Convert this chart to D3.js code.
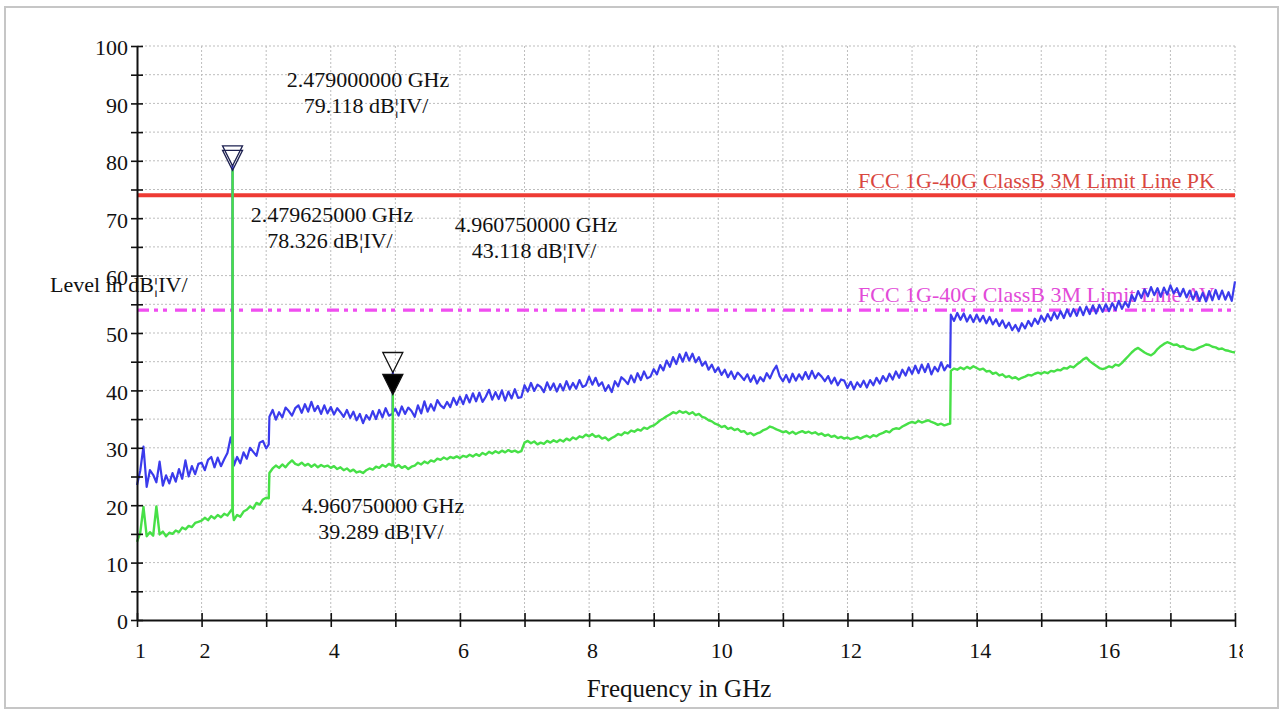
<!DOCTYPE html>
<html><head><meta charset="utf-8">
<script src="https://cdn.jsdelivr.net/npm/d3@7"></script>
<style>
html,body{margin:0;padding:0;background:#fff;}
svg{display:block;font-family:"Liberation Serif","Times New Roman",serif;}
</style>
</head><body>
<svg id="chart" width="1284" height="711"></svg>
<script>
// ---- sweep frequencies (GHz) ----
const sweepFreqGHz = [
1,1.05,1.1,1.15,1.2,1.25,1.3,1.35,1.4,1.45,1.5,1.55,1.6,1.65,1.7,1.75,1.8,1.85,1.9,1.95,
2,2.05,2.1,2.15,2.2,2.25,2.3,2.35,2.4,2.45,2.5,2.55,2.6,2.65,2.7,2.75,2.8,2.85,2.9,2.95,
3,3.05,3.1,3.15,3.2,3.25,3.3,3.35,3.4,3.45,3.5,3.55,3.6,3.65,3.7,3.75,3.8,3.85,3.9,3.95,
4,4.05,4.1,4.15,4.2,4.25,4.3,4.35,4.4,4.45,4.5,4.55,4.6,4.65,4.7,4.75,4.8,4.85,4.9,4.95,
5,5.05,5.1,5.15,5.2,5.25,5.3,5.35,5.4,5.45,5.5,5.55,5.6,5.65,5.7,5.75,5.8,5.85,5.9,5.95,
6,6.05,6.1,6.15,6.2,6.25,6.3,6.35,6.4,6.45,6.5,6.55,6.6,6.65,6.7,6.75,6.8,6.85,6.9,6.95,
7,7.05,7.1,7.15,7.2,7.25,7.3,7.35,7.4,7.45,7.5,7.55,7.6,7.65,7.7,7.75,7.8,7.85,7.9,7.95,
8,8.05,8.1,8.15,8.2,8.25,8.3,8.35,8.4,8.45,8.5,8.55,8.6,8.65,8.7,8.75,8.8,8.85,8.9,8.95,
9,9.05,9.1,9.15,9.2,9.25,9.3,9.35,9.4,9.45,9.5,9.55,9.6,9.65,9.7,9.75,9.8,9.85,9.9,9.95,
10,10.05,10.1,10.15,10.2,10.25,10.3,10.35,10.4,10.45,10.5,10.55,10.6,10.65,10.7,10.75,10.8,10.85,10.9,10.95,
11,11.05,11.1,11.15,11.2,11.25,11.3,11.35,11.4,11.45,11.5,11.55,11.6,11.65,11.7,11.75,11.8,11.85,11.9,11.95,
12,12.05,12.1,12.15,12.2,12.25,12.3,12.35,12.4,12.45,12.5,12.55,12.6,12.65,12.7,12.75,12.8,12.85,12.9,12.95,
13,13.05,13.1,13.15,13.2,13.25,13.3,13.35,13.4,13.45,13.5,13.55,13.6,13.65,13.7,13.75,13.8,13.85,13.9,13.95,
14,14.05,14.1,14.15,14.2,14.25,14.3,14.35,14.4,14.45,14.5,14.55,14.6,14.65,14.7,14.75,14.8,14.85,14.9,14.95,
15,15.05,15.1,15.15,15.2,15.25,15.3,15.35,15.4,15.45,15.5,15.55,15.6,15.65,15.7,15.75,15.8,15.85,15.9,15.95,
16,16.05,16.1,16.15,16.2,16.25,16.3,16.35,16.4,16.45,16.5,16.55,16.6,16.65,16.7,16.75,16.8,16.85,16.9,16.95,
17,17.05,17.1,17.15,17.2,17.25,17.3,17.35,17.4,17.45,17.5,17.55,17.6,17.65,17.7,17.75,17.8,17.85,17.9,17.95,
18];

// ---- peak detector trace (blue), dBuV ----
const peakLevel = [
23.5,26.0,30.2,23.2,26.1,25.3,24.0,27.6,23.4,25.2,23.8,25.6,24.1,26.3,24.6,27.8,25.0,26.8,25.4,27.2,
27.4,26.1,27.9,28.4,26.6,28.3,26.8,28.0,29.1,31.8,26.9,28.4,27.3,29.2,28.1,30.0,29.3,28.6,30.9,31.2,
29.9,35.4,36.6,34.9,36.2,35.3,37.0,36.4,35.6,36.9,37.4,36.1,37.6,36.3,38.0,36.4,37.3,35.9,37.4,36.0,
37.1,35.8,36.9,36.2,35.4,36.6,35.2,36.3,34.8,35.9,34.3,35.7,34.9,36.4,35.0,36.6,35.3,36.9,35.6,35.9,
36.8,35.6,37.2,35.9,37.0,36.4,35.4,37.4,36.0,38.1,36.3,37.6,36.5,38.3,37.4,36.9,38.0,37.1,38.7,37.5,
38.9,37.6,39.2,37.9,39.5,38.1,39.6,38.0,38.9,40.1,38.4,39.7,38.5,40.0,38.2,39.8,38.6,40.2,38.7,38.8,
40.9,39.8,41.3,39.9,41.0,40.6,39.7,41.4,40.1,41.2,39.8,41.1,40.0,41.6,40.2,41.3,40.3,41.8,40.6,40.9,
42.4,41.0,42.2,40.8,41.4,39.9,40.9,39.7,41.6,40.7,42.3,41.8,41.1,42.6,41.4,43.0,41.8,43.3,42.1,42.4,
43.7,42.8,44.4,43.5,45.2,44.1,45.8,44.6,46.3,45.0,46.6,45.2,46.4,44.9,45.8,44.3,45.0,43.6,44.5,43.2,
44.0,42.7,43.6,42.3,43.3,42.0,43.1,42.5,41.8,42.8,41.5,42.6,41.2,42.3,41.6,43.0,42.1,43.4,44.3,42.5,
41.6,42.7,41.4,42.9,41.7,42.8,41.9,43.2,42.0,43.4,42.1,43.0,42.4,41.6,42.5,41.2,42.2,40.9,41.9,41.7,
40.4,41.5,40.2,41.4,40.6,41.7,40.5,41.8,40.9,42.2,41.2,42.5,41.6,42.9,41.9,43.3,42.2,43.6,42.6,44.0,
42.9,44.3,43.0,44.5,43.2,44.6,42.8,44.1,43.3,44.9,43.5,44.4,53.2,52.1,53.5,52.3,53.4,52.0,53.1,51.9,
53.2,52.0,53.0,51.7,52.8,51.5,52.4,51.2,52.2,50.9,51.8,50.5,51.4,50.3,51.7,50.8,52.1,51.2,52.5,51.6,
53.0,52.0,53.3,52.2,53.6,52.5,53.8,52.6,54.1,52.9,54.2,53.0,54.5,53.1,54.6,53.3,54.8,53.4,54.9,53.7,
55.0,53.8,55.2,54.0,55.6,54.2,55.4,54.5,56.6,55.6,57.3,56.1,57.6,56.4,58.0,56.6,57.8,56.3,57.9,56.7,
58.3,56.9,57.8,56.4,57.7,56.2,57.4,55.8,57.2,55.6,57.0,55.5,57.3,55.7,57.5,55.9,57.4,55.8,57.1,55.6,
59.0];

// ---- average detector trace (green), dBuV ----
const avgLevel = [
13.6,15.2,19.7,14.6,15.3,14.7,19.8,14.9,15.4,14.6,15.2,15.0,15.6,15.3,16.1,15.8,16.4,16.2,16.9,17.1,
17.3,17.8,17.4,18.1,17.7,18.3,17.9,18.5,18.2,19.0,17.4,18.3,18.0,18.9,19.2,19.8,19.4,20.4,20.1,21.0,
21.3,25.6,26.4,26.9,26.5,27.1,26.6,27.3,27.8,27.2,27.0,27.4,26.9,27.2,26.7,27.1,26.6,27.0,26.7,26.9,
26.5,26.8,26.3,26.6,26.1,26.4,25.9,26.2,25.7,25.9,25.6,26.1,26.4,26.2,26.7,26.5,27.0,26.7,27.2,26.9,
26.6,27.0,26.5,26.8,26.3,26.7,26.9,27.4,27.1,27.6,27.3,27.8,27.6,28.1,27.9,28.3,28.0,28.4,28.2,28.5,
28.2,28.6,28.4,28.8,28.5,28.9,28.6,29.1,28.8,29.3,29.0,29.4,29.1,29.5,29.2,29.6,29.3,29.5,29.2,29.4,
30.9,31.2,30.8,31.1,30.6,30.9,30.7,31.2,30.9,31.3,31.0,31.4,31.1,31.6,31.3,31.8,31.5,32.0,31.8,32.3,
32.0,32.4,31.9,32.1,31.6,31.8,31.3,31.7,32.0,32.4,32.2,32.7,32.5,33.0,32.8,33.2,33.0,33.5,33.3,33.7,
33.9,34.3,34.8,35.1,35.5,35.8,36.2,36.0,36.4,36.1,36.3,35.9,36.2,35.7,35.9,35.4,35.2,34.8,34.6,34.2,
34.0,33.6,33.8,33.3,33.5,33.1,33.3,32.8,32.9,32.4,32.6,32.2,32.5,32.7,33.1,33.3,33.7,33.5,33.2,33.0,
32.7,32.9,32.5,32.8,32.4,32.7,32.9,32.6,32.8,32.5,32.7,32.3,32.5,32.1,32.3,31.9,32.1,31.7,31.9,31.6,
31.8,31.5,31.7,31.9,31.6,31.9,32.1,31.8,32.2,32.0,32.4,32.6,32.9,32.7,33.2,33.4,33.3,33.7,34.0,34.3,
34.5,34.3,34.7,34.4,34.6,34.8,34.5,34.3,34.0,34.2,33.9,34.1,43.4,43.8,43.6,44.0,43.7,44.1,43.8,44.2,
43.9,43.6,43.8,43.3,43.4,42.9,43.1,42.6,42.8,42.3,42.5,42.1,42.3,41.9,42.2,42.4,42.7,42.6,42.9,43.1,
42.9,43.2,43.0,43.4,43.3,43.6,43.5,43.9,43.8,44.2,44.0,44.5,44.9,45.4,45.7,45.1,44.7,44.3,43.9,43.7,
43.9,44.2,44.0,44.5,44.3,44.8,45.4,46.0,46.6,47.1,47.4,47.0,46.6,46.3,46.1,46.5,47.2,47.7,48.1,48.4,
48.2,47.9,48.0,47.6,47.7,47.3,47.2,47.0,47.2,47.5,47.7,48.0,47.9,47.6,47.5,47.2,47.3,47.0,46.9,46.7,
46.6];

// ---- extra trace points (signal spikes and step edges) ----
const peakExtraFreq  = [2.476, 2.479, 2.482, 3.04, 4.958, 4.96075, 4.963, 13.59];
const peakExtraLevel = [30.5, 79.118, 29.0, 30.6, 36.0, 43.118, 36.2, 44.0];
const avgExtraFreq   = [2.476, 2.479625, 2.483, 3.04, 4.957, 4.96075, 4.964, 13.59];
const avgExtraLevel  = [19.4, 78.326, 18.8, 21.2, 27.0, 39.289, 27.1, 34.2];

// ---- limit lines ----
const limitNames  = ["FCC 1G-40G ClassB 3M Limit Line PK", "FCC 1G-40G ClassB 3M Limit Line AV"];
const limitLevels = [74, 54];

// ---- markers ----
const markerFreq   = [2.479, 2.479625, 4.96075, 4.96075];
const markerLevel  = [79.118, 78.326, 43.118, 39.289];
const markerActive = [false, false, false, true];

// ---- axes ----
const xTickValues = [1,2,3,4,5,6,7,8,9,10,11,12,13,14,15,16,17,18];
const xTickLabels = [1,2,4,6,8,10,12,14,16,18];
const yTickValues = [0,5,10,15,20,25,30,35,40,45,50,55,60,65,70,75,80,85,90,95,100];
const yTickLabels = [0,10,20,30,40,50,60,70,80,90,100];
const xTitle = "Frequency in GHz";
const yTitle = "Level in dB¦IV/";
const unitText = "dB¦IV/";

// ---------------- drawing ----------------
const svg = d3.select("#chart");
const L = 137, R = 1235, T = 46, B = 620;
const x = d3.scaleLinear().domain([1, 18]).range([L, R]);
const y = d3.scaleLinear().domain([0, 100]).range([B, T]);

// outer frame
svg.append("rect").attr("x", 5).attr("y", 7).attr("width", 1273).attr("height", 701)
  .attr("fill", "#fff").attr("stroke", "#c6c6c6").attr("stroke-width", 2);

// grid
const grid = svg.append("g").attr("stroke", "#bdbdbd").attr("stroke-width", 1)
  .attr("stroke-dasharray", "2,2").attr("fill", "none");
grid.selectAll(".gy").data(yTickValues.filter(v => v > 0)).join("line")
  .attr("x1", L).attr("x2", R).attr("y1", d => y(d)).attr("y2", d => y(d));
grid.selectAll(".gx").data(xTickValues.filter(v => v > 1)).join("line")
  .attr("y1", T).attr("y2", B).attr("x1", d => x(d)).attr("x2", d => x(d));

// limit lines
const limColors = ["#ee3b34", "#f04ef0"];
const limTextColors = ["#d9473f", "#e24ad8"];
const limDash = [null, "12,5,4,5,4,8"];
const limWidth = [4, 3.2];
limitLevels.forEach((lv, i) => {
  svg.append("line").attr("x1", L).attr("x2", R).attr("y1", y(lv)).attr("y2", y(lv))
    .attr("stroke", limColors[i]).attr("stroke-width", limWidth[i])
    .attr("stroke-dasharray", limDash[i]);
  svg.append("text").attr("x", 858).attr("y", y(lv) - (i === 0 ? 7 : 8))
    .attr("font-size", 22).attr("fill", limTextColors[i]).text(limitNames[i]);
});

// traces
function buildTrace(freqs, levels, exF, exL) {
  const pts = freqs.map((f, i) => ({ f, v: levels[i] }));
  exF.forEach((f, i) => pts.push({ f, v: exL[i] }));
  pts.sort((a, b) => a.f - b.f);
  return pts;
}
const line = d3.line().x(d => x(d.f)).y(d => y(d.v));
svg.append("path").datum(buildTrace(sweepFreqGHz, peakLevel, peakExtraFreq, peakExtraLevel))
  .attr("d", line).attr("fill", "none").attr("stroke", "#3b3bec").attr("stroke-width", 2.2)
  .attr("stroke-linejoin", "round");
svg.append("path").datum(buildTrace(sweepFreqGHz, avgLevel, avgExtraFreq, avgExtraLevel))
  .attr("d", line).attr("fill", "none").attr("stroke", "#47e047").attr("stroke-width", 2.4)
  .attr("stroke-linejoin", "round");

// markers (down-pointing triangles with tip on the level)
markerFreq.forEach((f, i) => {
  const px = x(f), py = y(markerLevel[i]);
  svg.append("path")
    .attr("d", `M${px - 10},${py - 20}L${px + 10},${py - 20}L${px},${py}Z`)
    .attr("fill", markerActive[i] ? "#000" : "none")
    .attr("stroke", i < 2 ? "#1d2050" : "#111").attr("stroke-width", 1.3);
});

// marker readouts
const readoutPos = [[368, 87], [332, 222], [536, 232], [383, 513]];
markerFreq.forEach((f, i) => {
  const t = svg.append("text").attr("text-anchor", "middle").attr("font-size", 22).attr("fill", "#111");
  t.append("tspan").attr("x", readoutPos[i][0]).attr("y", readoutPos[i][1]).text(f.toFixed(9) + " GHz");
  t.append("tspan").attr("x", readoutPos[i][0] - 2).attr("y", readoutPos[i][1] + 26)
    .text(markerLevel[i].toFixed(3) + " " + unitText);
});

// y axis
const yAxis = svg.append("g").attr("transform", `translate(${L},0)`)
  .call(d3.axisLeft(y).tickValues(yTickValues).tickSize(6).tickSizeOuter(0).tickPadding(3)
    .tickFormat(d => yTickLabels.includes(d) ? d : ""));
yAxis.select(".domain").attr("stroke", "#111").attr("stroke-width", 2);
yAxis.selectAll(".tick line").attr("x1", 6).attr("stroke", "#111").attr("stroke-width", 1.6);
yAxis.selectAll(".tick text").attr("font-size", 22).attr("font-family", "Liberation Serif")
  .attr("fill", "#111").attr("dy", "0.4em");

// x axis
svg.append("defs").append("clipPath").attr("id", "xclip")
  .append("rect").attr("x", 0).attr("y", -20).attr("width", 1243).attr("height", 100);
const xAxis = svg.append("g").attr("transform", `translate(0,${B})`)
  .call(d3.axisBottom(x).tickValues(xTickValues).tickSize(7).tickSizeOuter(0)
    .tickFormat(d => xTickLabels.includes(d) ? d : ""));
xAxis.select(".domain").attr("stroke", "#111").attr("stroke-width", 2);
xAxis.selectAll(".tick line").attr("y1", -7).attr("stroke", "#111").attr("stroke-width", 1.6);
xAxis.selectAll(".tick text").attr("font-size", 22).attr("font-family", "Liberation Serif")
  .attr("fill", "#111").attr("y", 38).attr("dy", 0).attr("dx", 3);
xAxis.attr("clip-path", "url(#xclip)");

// axis titles
svg.append("text").attr("x", 679).attr("y", 697).attr("text-anchor", "middle")
  .attr("font-size", 25).attr("fill", "#111").text(xTitle);
svg.append("text").attr("x", 50).attr("y", 292).attr("font-size", 22)
  .attr("fill", "#111").text(yTitle);
</script>
</body></html>
